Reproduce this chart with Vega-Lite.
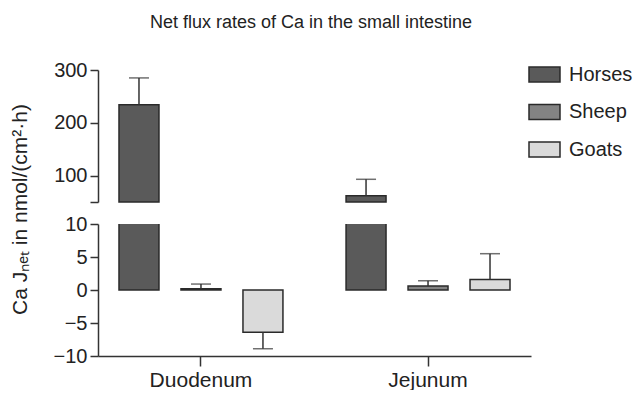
{
  "$schema": "https://vega.github.io/schema/vega-lite/v6.json",
  "padding": {"left": 8, "top": 14, "right": 0, "bottom": 0},
  "background": "white",
  "title": {
    "text": "Net flux rates of Ca in the small intestine",
    "fontSize": 18,
    "fontWeight": "normal",
    "font": "Liberation Sans",
    "color": "#222222",
    "anchor": "middle",
    "offset": 26,
    "dx": -10
  },
  "data": {
    "values": [
      {"region": "Duodenum", "species": "Horses", "mean": 234, "sem": 51},
      {"region": "Duodenum", "species": "Sheep", "mean": 0.2, "sem": 0.7},
      {"region": "Duodenum", "species": "Goats", "mean": -6.4, "sem": 2.5},
      {"region": "Jejunum", "species": "Horses", "mean": 62, "sem": 31},
      {"region": "Jejunum", "species": "Sheep", "mean": 0.6, "sem": 0.8},
      {"region": "Jejunum", "species": "Goats", "mean": 1.6, "sem": 3.9}
    ]
  },
  "transform": [
    {"calculate": "datum.mean >= 0 ? datum.mean + datum.sem : datum.mean - datum.sem", "as": "errEnd"}
  ],
  "spacing": 22,
  "bounds": "flush",
  "vconcat": [
    {
      "width": 433,
      "height": 132,
      "transform": [{"filter": "datum.mean > 50"}],
      "encoding": {
        "x": {"field": "region", "type": "nominal", "axis": null,
              "scale": {"domain": ["Duodenum", "Jejunum"], "paddingInner": 0.181, "paddingOuter": 0.044}},
        "xOffset": {"field": "species", "type": "nominal",
              "scale": {"domain": ["Horses", "Sheep", "Goats"], "paddingInner": 0.355, "paddingOuter": 0.1775}}
      },
      "layer": [
        {
          "mark": {"type": "bar", "stroke": "#2a2a2a", "strokeWidth": 1.5},
          "encoding": {
            "y": {"field": "mean", "type": "quantitative",
                  "scale": {"domain": [50, 300], "nice": false, "zero": false},
                  "axis": {"values": [50, 100, 200, 300], "labelExpr": "datum.value == 50 ? '' : datum.label", "title": null}},
            "y2": {"datum": 50},
            "color": {"field": "species", "type": "nominal", "title": null,
                      "scale": {"domain": ["Horses", "Sheep", "Goats"], "range": ["#5a5a5a", "#838383", "#dadada"]}}
          }
        },
        {
          "mark": {"type": "rule", "color": "#333333", "strokeWidth": 1.5},
          "encoding": {
            "y": {"field": "mean", "type": "quantitative",
                  "axis": {"values": [50, 100, 200, 300], "labelExpr": "datum.value == 50 ? '' : datum.label", "title": null}},
            "y2": {"field": "errEnd"}
          }
        },
        {
          "mark": {"type": "tick", "color": "#333333", "thickness": 1.5, "size": 20},
          "encoding": {
            "y": {"field": "errEnd", "type": "quantitative",
                  "axis": {"values": [50, 100, 200, 300], "labelExpr": "datum.value == 50 ? '' : datum.label", "title": null}}
          }
        }
      ]
    },
    {
      "width": 433,
      "height": 132,
      "encoding": {
        "x": {"field": "region", "type": "nominal",
              "scale": {"domain": ["Duodenum", "Jejunum"], "paddingInner": 0.181, "paddingOuter": 0.044},
              "axis": {"title": null, "labelAngle": 0, "tickSize": 10, "labelPadding": 3, "labelFontSize": 21}},
        "xOffset": {"field": "species", "type": "nominal",
              "scale": {"domain": ["Horses", "Sheep", "Goats"], "paddingInner": 0.355, "paddingOuter": 0.1775}}
      },
      "layer": [
        {
          "mark": {"type": "bar", "stroke": "#2a2a2a", "strokeWidth": 1.5, "clip": true},
          "encoding": {
            "y": {"field": "mean", "type": "quantitative",
                  "scale": {"domain": [-10, 10], "nice": false},
                  "axis": {"values": [-10, -5, 0, 5, 10], "title": "Ca Jₙₑₜ in nmol/(cm²·h)",
                           "titleX": -78, "titleY": -15, "titleAlign": "center", "titleBaseline": "middle", "titleAngle": -90}},
            "color": {"field": "species", "type": "nominal", "title": null,
                      "scale": {"domain": ["Horses", "Sheep", "Goats"], "range": ["#5a5a5a", "#838383", "#dadada"]}}
          }
        },
        {
          "mark": {"type": "rule", "color": "#333333", "strokeWidth": 1.5},
          "encoding": {
            "y": {"datum": 0, "type": "quantitative",
                  "axis": {"values": [-10, -5, 0, 5, 10], "title": "Ca Jₙₑₜ in nmol/(cm²·h)",
                           "titleX": -78, "titleY": -15, "titleAlign": "center", "titleBaseline": "middle", "titleAngle": -90}}
          }
        },
        {
          "transform": [{"filter": "abs(datum.mean) < 10"}],
          "mark": {"type": "rule", "color": "#333333", "strokeWidth": 1.5},
          "encoding": {
            "y": {"field": "mean", "type": "quantitative",
                  "axis": {"values": [-10, -5, 0, 5, 10], "title": "Ca Jₙₑₜ in nmol/(cm²·h)",
                           "titleX": -78, "titleY": -15, "titleAlign": "center", "titleBaseline": "middle", "titleAngle": -90}},
            "y2": {"field": "errEnd"}
          }
        },
        {
          "transform": [{"filter": "abs(datum.mean) < 10"}],
          "mark": {"type": "tick", "color": "#333333", "thickness": 1.5, "size": 20},
          "encoding": {
            "y": {"field": "errEnd", "type": "quantitative",
                  "axis": {"values": [-10, -5, 0, 5, 10], "title": "Ca Jₙₑₜ in nmol/(cm²·h)",
                           "titleX": -78, "titleY": -15, "titleAlign": "center", "titleBaseline": "middle", "titleAngle": -90}}
          }
        }
      ]
    }
  ],
  "config": {
    "font": "Liberation Sans",
    "view": {"stroke": null},
    "axis": {
      "labelFont": "Liberation Sans",
      "titleFont": "Liberation Sans",
      "labelFontSize": 20,
      "titleFontSize": 21,
      "titleFontWeight": "normal",
      "labelColor": "#222222",
      "titleColor": "#222222",
      "domainColor": "#333333",
      "tickColor": "#333333",
      "domainWidth": 1.5,
      "tickWidth": 1.5,
      "tickSize": 8,
      "grid": false,
      "labelPadding": 3,
      "labelOverlap": false
    },
    "legend": {
      "orient": "none",
      "legendX": 430,
      "legendY": -12,
      "symbolType": "M-1,-0.48H1V0.48H-1Z",
      "symbolSize": 961,
      "symbolStrokeColor": "#2a2a2a",
      "symbolStrokeWidth": 1.5,
      "symbolOpacity": 1,
      "labelFontSize": 20,
      "labelFont": "Liberation Sans",
      "labelColor": "#222222",
      "rowPadding": 10.5,
      "labelOffset": 8,
      "padding": 0
    }
  }
}
